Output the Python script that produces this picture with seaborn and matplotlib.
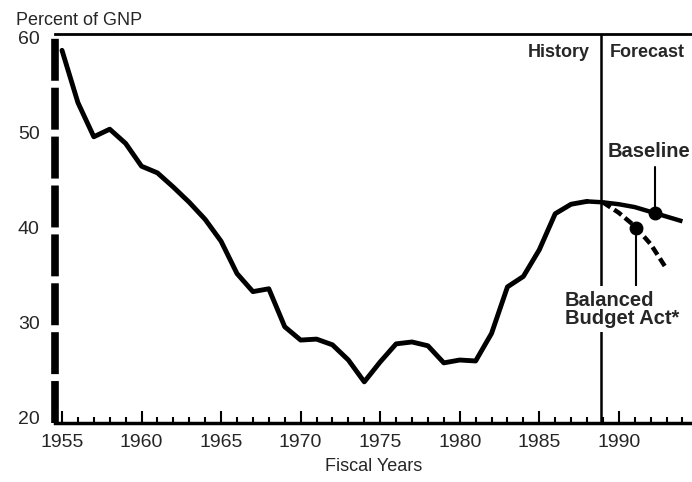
import numpy as np
import matplotlib
matplotlib.use("Agg")
import matplotlib.pyplot as plt
import seaborn as sns

# === DONNÉES ===
years_hist = list(range(1955, 1989))
debt_hist = [58.7, 53.2, 49.6, 50.4, 48.9, 46.5, 45.8, 44.3, 42.7, 40.9,
             38.6, 35.2, 33.3, 33.6, 29.6, 28.2, 28.3, 27.7, 26.1, 23.8,
             25.9, 27.8, 28.0, 27.6, 25.8, 26.1, 26.0, 28.9, 33.8, 34.9,
             37.7, 41.5, 42.5, 42.8]

years_baseline = [1988, 1989, 1990, 1991, 1992, 1993, 1994]
debt_baseline = [42.8, 42.7, 42.5, 42.2, 41.7, 41.2, 40.7]

years_balanced = [1989, 1990, 1991, 1992, 1993]
debt_balanced = [42.7, 41.6, 40.2, 38.3, 35.7]

forecast_start = 1988.9
marker_year_baseline = 1992.3
marker_year_balanced = 1991.1

x_ticks = list(range(1955, 1995, 5))
y_ticks = [20, 30, 40, 50, 60]

# === STYLE ===
sns.set_theme(style="ticks")
plt.rcParams['font.family'] = ['Liberation Sans', 'DejaVu Sans']
plt.rcParams['lines.scale_dashes'] = False

fig = plt.figure(figsize=(6.92, 4.82), dpi=100)
ax = fig.add_axes([55 / 692, 59 / 482, 637 / 692, 389 / 482])

# courbe historique
sns.lineplot(x=years_hist, y=debt_hist, ax=ax, color="black", linewidth=3.5,
             solid_joinstyle="round", solid_capstyle="round")
# prévision de base
sns.lineplot(x=years_baseline, y=debt_baseline, ax=ax, color="black", linewidth=3.2,
             solid_capstyle="butt")
# Balanced Budget Act
sns.lineplot(x=years_balanced, y=debt_balanced, ax=ax, color="black", linewidth=3.2,
             linestyle=(0, (6.5, 3.2)), dash_capstyle="butt")

# points repères + traits de rappel
yb = np.interp(marker_year_baseline, years_baseline, debt_baseline)
yd = np.interp(marker_year_balanced, years_balanced, debt_balanced)
ax.plot([marker_year_baseline], [yb], "o", color="black", markersize=9, zorder=5)
ax.plot([marker_year_balanced], [yd], "o", color="black", markersize=9, zorder=5)
ax.plot([marker_year_baseline, marker_year_baseline], [yb, 46.4], color="black", lw=1.5)
ax.plot([marker_year_balanced, marker_year_balanced], [yd, 33.5], color="black", lw=1.5)

# séparation historique / prévision
ax.axvline(forecast_start, color="black", lw=1.8, zorder=1)

ax.text(forecast_start - 0.75, 58.5, "History", ha="right", va="center",
        fontsize=13, fontweight="bold")
ax.text(forecast_start + 0.55, 58.5, "Forecast", ha="left", va="center",
        fontsize=13, fontweight="bold")
ax.text(1989.3, 48.1, "Baseline", ha="left", va="center",
        fontsize=14.5, fontweight="bold", zorder=6)
ax.text(1986.6, 33.4, "Balanced\nBudget Act*", ha="left", va="top",
        fontsize=14.5, fontweight="bold", linespacing=0.95, zorder=6,
        bbox=dict(facecolor="white", edgecolor="none", pad=3))

# axes
ax.set_xlim(1954.56, 1994.6)
ax.set_ylim(19.47, 60.42)
ax.set_xticks(x_ticks)
ax.set_xticks(list(range(1955, 1995)), minor=True)
ax.set_yticks(y_ticks)
ax.tick_params(axis="x", which="major", direction="in", length=8.5, width=1.5,
               labelsize=14, pad=8, color="black")
ax.tick_params(axis="x", which="minor", direction="in", length=4.5, width=1.5,
               color="black")
ax.tick_params(axis="y", length=0, labelsize=14, pad=11)

ax.spines["right"].set_visible(False)
ax.spines["left"].set_visible(False)
ax.spines["top"].set_linewidth(2)
ax.spines["bottom"].set_linewidth(2.5)
for s in ax.spines.values():
    s.set_color("black")

# axe vertical gauche en tirets épais
ax.plot([0, 0], [0, 1], transform=ax.transAxes, clip_on=False, color="black",
        lw=5.5, linestyle=(0, (30.2, 5.0)), dash_capstyle="butt", zorder=4)

ax.set_xlabel("Fiscal Years", fontsize=13, labelpad=5)
ax.set_ylabel("")
fig.text(16 / 692, 1 - 25 / 482, "Percent of GNP", fontsize=13, ha="left", va="baseline")

fig.savefig("out.png", dpi=100)
